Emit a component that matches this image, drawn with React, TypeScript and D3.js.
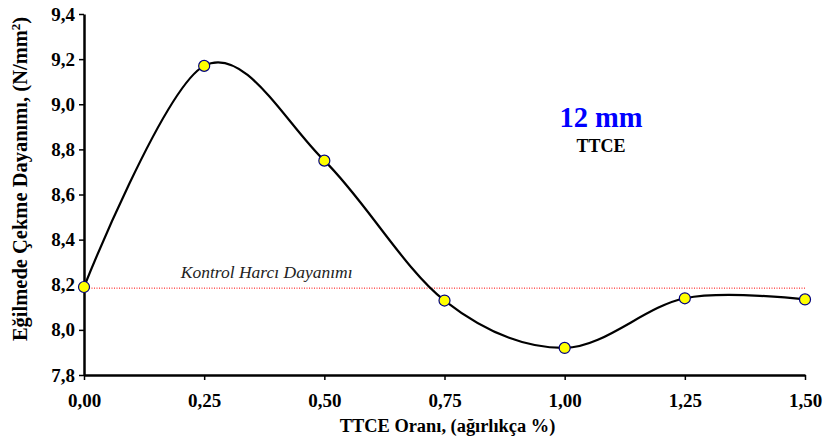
import { useEffect, useRef } from 'react';
import * as d3 from 'd3';

const xValues = [0, 0.25, 0.5, 0.75, 1.0, 1.25, 1.5];
const yValues = [8.19, 9.17, 8.75, 8.13, 7.92, 8.14, 8.135];
const controlValue = 8.185;
const xTicks = [0, 0.25, 0.5, 0.75, 1.0, 1.25, 1.5];
const yTicks = [7.8, 8.0, 8.2, 8.4, 8.6, 8.8, 9.0, 9.2, 9.4];

const width = 826;
const height = 439;
const margin = { top: 14, right: 21, bottom: 64, left: 84 };

const fmt = (d: number, n: number) => d.toFixed(n).replace('.', ',');

const App = () => {
  const ref = useRef<SVGSVGElement>(null);

  useEffect(() => {
    const svg = d3.select(ref.current);
    svg.selectAll('*').remove();

    const x = d3.scaleLinear().domain([0, 1.5]).range([margin.left, width - margin.right]);
    const y = d3.scaleLinear().domain([7.8, 9.4]).range([height - margin.bottom, margin.top]);
    const font = '"Liberation Serif", "Times New Roman", serif';

    // control line
    svg
      .append('line')
      .attr('x1', x(0))
      .attr('x2', x(1.5))
      .attr('y1', y(controlValue))
      .attr('y2', y(controlValue))
      .attr('stroke', '#ff0000')
      .attr('stroke-width', 1)
      .attr('stroke-dasharray', '1,1.5');

    svg
      .append('text')
      .attr('x', x(0.38))
      .attr('y', y(controlValue) - 10)
      .attr('text-anchor', 'middle')
      .style('font', `italic 17.5px ${font}`)
      .attr('fill', '#222')
      .text('Kontrol Harcı Dayanımı');

    // axes
    const xAxis = d3.axisBottom(x).tickValues(xTicks).tickSize(5).tickSizeOuter(0).tickFormat((d: any) => fmt(d, 2));
    const gx = svg
      .append('g')
      .attr('transform', `translate(0,${height - margin.bottom})`)
      .call(xAxis);
    gx.select('.domain').attr('stroke-width', 2.5);
    gx.selectAll('.tick line').attr('stroke-width', 1.5);
    gx.selectAll('text')
      .attr('dy', 0)
      .attr('y', 32)
      .style('font', `bold 19px ${font}`)
      .attr('fill', '#000');

    const yAxis = d3.axisLeft(y).tickValues(yTicks).tickSize(5).tickSizeOuter(0).tickFormat((d: any) => fmt(d, 1));
    const gy = svg.append('g').attr('transform', `translate(${margin.left},0)`).call(yAxis);
    gy.select('.domain').attr('stroke-width', 2.5);
    gy.selectAll('.tick line').attr('stroke-width', 1.5);
    gy.selectAll('text')
      .attr('x', -9)
      .style('font', `bold 19px ${font}`)
      .attr('fill', '#000');

    // axis titles
    svg
      .append('text')
      .attr('x', (x(0) + x(1.5)) / 2 + 3)
      .attr('y', 432)
      .attr('text-anchor', 'middle')
      .style('font', `bold 18.4px ${font}`)
      .text('TTCE Oranı, (ağırlıkça %)');

    const yt = svg
      .append('text')
      .attr('transform', `translate(27,${179}) rotate(-90)`)
      .attr('text-anchor', 'middle')
      .style('font', `bold 20.5px ${font}`);
    yt.append('tspan').text('Eğilmede Çekme Dayanımı, (N/mm');
    yt.append('tspan').attr('baseline-shift', 'super').style('font-size', '13px').text('2');
    yt.append('tspan').text(')');

    // curve
    const pts: [number, number][] = xValues.map((v, i) => [v, yValues[i]]);
    const line = d3
      .line<[number, number]>()
      .x((d) => x(d[0]))
      .y((d) => y(d[1]))
      .curve(d3.curveCatmullRom.alpha(0));
    svg
      .append('path')
      .datum(pts)
      .attr('d', line)
      .attr('fill', 'none')
      .attr('stroke', '#000')
      .attr('stroke-width', 2.2);

    svg
      .append('g')
      .selectAll('circle')
      .data(pts)
      .enter()
      .append('circle')
      .attr('cx', (d) => x(d[0]))
      .attr('cy', (d) => y(d[1]))
      .attr('r', 5.5)
      .attr('fill', '#ffff00')
      .attr('stroke', '#000080')
      .attr('stroke-width', 1.2);

    // annotation
    svg
      .append('text')
      .attr('x', 601)
      .attr('y', 127)
      .attr('text-anchor', 'middle')
      .style('font', `bold 28.5px ${font}`)
      .attr('fill', '#0000ff')
      .text('12 mm');
    svg
      .append('text')
      .attr('x', 601)
      .attr('y', 152)
      .attr('text-anchor', 'middle')
      .style('font', `bold 18px ${font}`)
      .attr('fill', '#000')
      .text('TTCE');
  }, []);

  return (
    <svg
      ref={ref}
      width={width}
      height={height}
      style={{ position: 'absolute', left: 0, top: 0, background: '#fff' }}
    />
  );
};

export default App;
